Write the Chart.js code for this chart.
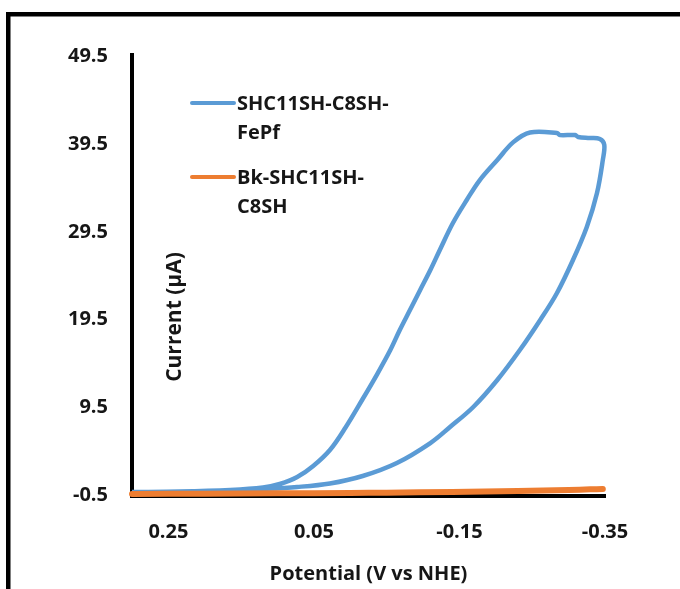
<!DOCTYPE html>
<html><head><meta charset="utf-8">
<script src="https://cdn.jsdelivr.net/npm/chart.js@4.4.1/dist/chart.umd.min.js"></script>
<style>html,body{margin:0;padding:0;background:#fff;overflow:hidden}</style>
</head><body>
<canvas id="c" width="680" height="589"></canvas>
<script>
// ---- data ----
const seriesNames = ['SHC11SH-C8SH-FePf', 'Bk-SHC11SH-C8SH'];
const legendLines = [['SHC11SH-C8SH-', 'FePf'], ['Bk-SHC11SH-', 'C8SH']];
// forward (lower) branch, then return (upper) branch
const bluePotential = [0.300, 0.234, 0.165, 0.120, 0.073, 0.028, -0.017, -0.064, -0.110, -0.137, -0.169, -0.202, -0.233, -0.261, -0.284, -0.306, -0.325, -0.339, -0.347, -0.349,
  -0.343, -0.329, -0.313, -0.309, -0.288, -0.284, -0.247, -0.224, -0.202, -0.178, -0.160, -0.141, -0.123, -0.110, -0.096, -0.082, -0.068, -0.055, -0.037, -0.017, 0.007, 0.028, 0.051, 0.073, 0.097, 0.120, 0.165, 0.234, 0.300];
const blueCurrent = [-0.15, -0.05, 0.10, 0.24, 0.47, 0.87, 1.72, 3.20, 5.47, 7.29, 9.57, 12.64, 16.05, 19.47, 22.54, 26.29, 30.05, 33.91, 37.67, 39.4,
  40.06, 40.17, 40.29, 40.51, 40.51, 40.74, 40.8, 39.7, 37.67, 35.39, 33.12, 30.50, 27.43, 25.15, 22.88, 20.60, 18.33, 16.05, 13.32, 10.48, 7.18, 4.68, 2.86, 1.60, 0.81, 0.41, 0.13, -0.05, -0.10];
const orangePotential = [0.300, 0.200, 0.100, 0.000, -0.050, -0.140, -0.230, -0.300, -0.330, -0.347];
const orangeCurrent = [-0.33, -0.29, -0.25, -0.21, -0.18, -0.10, 0.00, 0.12, 0.20, 0.24];
const xTickValues = [0.25, 0.05, -0.15, -0.35];
const yTickValues = [-0.5, 9.5, 19.5, 29.5, 39.5, 49.5];
const xTitle = 'Potential (V vs NHE)';
const yTitle = 'Current (µA)';

const BLUE = '#5B9BD5', ORANGE = '#ED7D31', TEXT = '#161616';
const FONT = '"Open Sans", sans-serif';

const toPts = (xs, ys) => xs.map((x, i) => ({x: x, y: ys[i]}));

const framePlugin = {
  id: 'frame',
  beforeDraw(chart) {
    const ctx = chart.ctx;
    ctx.save();
    ctx.fillStyle = '#fff';
    ctx.fillRect(0, 0, chart.width, chart.height);
    ctx.fillStyle = '#000';
    ctx.fillRect(6, 12, chart.width - 6, 4.5);
    ctx.fillRect(6, 12, 4.5, chart.height - 12);
    ctx.restore();
  },
  afterDraw(chart) {
    const ctx = chart.ctx;
    const ca = chart.chartArea;
    ctx.save();
    ctx.fillStyle = '#000';
    ctx.fillRect(ca.left - 2, ca.top - 3, 4, 4);
    ctx.fillStyle = TEXT;
    ctx.font = '700 21px ' + FONT;
    ctx.textAlign = 'center';
    ctx.textBaseline = 'middle';
    ctx.translate(175, 317);
    ctx.rotate(-Math.PI / 2);
    ctx.fillText(yTitle, 0, 0);
    ctx.restore();
    ctx.save();
    const cols = [BLUE, ORANGE];
    const y0 = [103, 177];
    ctx.font = '700 20px ' + FONT;
    ctx.textAlign = 'left';
    ctx.textBaseline = 'middle';
    legendLines.forEach((lines, i) => {
      ctx.strokeStyle = cols[i];
      ctx.lineWidth = 4;
      ctx.lineCap = 'round';
      ctx.beginPath();
      ctx.moveTo(192, y0[i]);
      ctx.lineTo(234, y0[i]);
      ctx.stroke();
      ctx.fillStyle = TEXT;
      lines.forEach((t, j) => ctx.fillText(t, 237, y0[i] + 1 + j * 29));
    });
    ctx.restore();
  }
};

new Chart(document.getElementById('c'), {
  type: 'scatter',
  data: {
    datasets: [
      {label: seriesNames[0], data: toPts(bluePotential, blueCurrent), showLine: true, borderColor: BLUE, backgroundColor: BLUE,
       borderWidth: 4.5, pointRadius: 0, tension: 0.35, clip: false, order: 1, borderJoinStyle: 'round'},
      {label: seriesNames[1], data: toPts(orangePotential, orangeCurrent), showLine: true, borderColor: ORANGE, backgroundColor: ORANGE,
       borderWidth: 6, pointRadius: 0, tension: 0.3, clip: false, order: 0, borderCapStyle: 'round'}
    ]
  },
  options: {
    responsive: false,
    animation: false,
    devicePixelRatio: 1,
    layout: {padding: {top: 56, right: 75, left: 0, bottom: 0}},
    plugins: {legend: {display: false}, tooltip: {enabled: false}},
    scales: {
      x: {
        type: 'linear', reverse: true, min: -0.35, max: 0.30,
        afterBuildTicks: s => { s.ticks = xTickValues.map(v => ({value: v})); },
        afterFit: s => { s.height = 93.5; },
        grid: {display: false, drawTicks: false},
        border: {display: true, color: '#000', width: 4},
        ticks: {padding: 25, color: TEXT, font: {family: FONT, size: 20, weight: '700'},
                callback: v => Number(v).toFixed(2), maxRotation: 0, autoSkip: false},
        title: {display: true, text: xTitle, color: TEXT, font: {family: FONT, size: 20, weight: '700'}, padding: {top: 0, bottom: 3}}
      },
      y: {
        type: 'linear', min: -0.5, max: 49.5,
        afterBuildTicks: s => { s.ticks = yTickValues.map(v => ({value: v})); },
        afterFit: s => { s.width = 132; },
        grid: {display: false, drawTicks: false},
        border: {display: true, color: '#000', width: 4},
        ticks: {padding: 24, color: TEXT, font: {family: FONT, size: 20, weight: '700'},
                callback: v => Number(v).toFixed(1), autoSkip: false}
      }
    }
  },
  plugins: [framePlugin]
});
</script>
</body></html>
